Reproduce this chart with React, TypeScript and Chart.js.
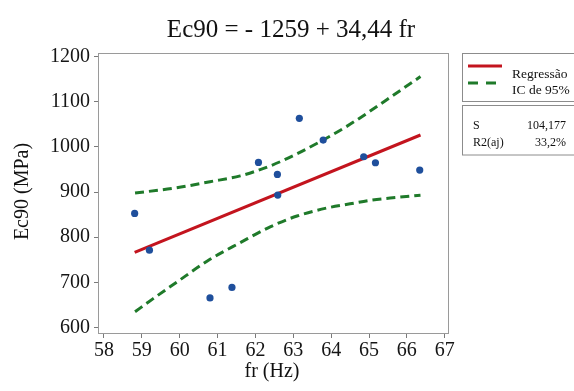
import React, { useEffect, useRef } from 'react';
import { Chart, registerables } from 'chart.js';
Chart.register(...registerables);

// Observations
const frValues = [58.81, 59.2, 60.8, 61.38, 62.08, 62.58, 62.59, 63.16, 63.79, 64.86, 65.17, 66.34];
const ec90Values = [852.7, 771.4, 665.6, 688.7, 965.8, 939.2, 893.4, 1063.4, 1015.3, 978.3, 965.0, 948.8];

// Fitted line (ends)
const fitX = [58.81, 66.36];
const fitY = [766.5, 1026.5];

// 95% confidence band
const upperX = [58.82, 59.88, 60.8, 61.6, 62.39, 63.1, 63.78, 64.4, 65.04, 65.7, 66.36];
const upperY = [898, 909, 923, 936, 958, 985, 1015, 1045, 1080, 1118, 1156];
const lowerX = [58.82, 59.3, 59.88, 60.8, 61.6, 62.39, 63.1, 63.9, 64.5, 65.04, 65.7, 66.36];
const lowerY = [635, 664, 698, 751, 788, 823, 847, 865, 874, 882, 888, 893];

// Axis ticks
const xTicks = [58, 59, 60, 61, 62, 63, 64, 65, 66, 67];
const yTicks = [600, 700, 800, 900, 1000, 1100, 1200];

const titleText = 'Ec90 = - 1259 + 34,44 fr';
const xTitle = 'fr (Hz)';
const yTitle = 'Ec90 (MPa)';
const legendLabels = ['Regressão', 'IC de 95%'];
const statNames = ['S', 'R2(aj)'];
const statValues = ['104,177', '33,2%'];

const SERIF = "'Liberation Serif', 'Times New Roman', serif";
const RED = '#c3141e';
const GREEN = '#1f7a2a';
const BLUE = '#1f4f9c';

const pts = (xs: number[], ys: number[]) => xs.map((x, i) => ({ x, y: ys[i] }));

const decorPlugin = {
  id: 'decor',
  beforeDatasetsDraw(chart: any) {
    const { ctx, chartArea: a } = chart;
    ctx.save();
    ctx.strokeStyle = '#9a9a9a';
    ctx.lineWidth = 1;
    ctx.strokeRect(Math.round(a.left) - 0.5, Math.round(a.top) + 0.5, Math.round(a.right - a.left), Math.round(a.bottom - a.top));
    ctx.restore();
  },
  afterDraw(chart: any) {
    const { ctx } = chart;
    ctx.save();
    ctx.fillStyle = '#111';
    // title
    ctx.font = `25px ${SERIF}`;
    ctx.textAlign = 'center';
    ctx.textBaseline = 'alphabetic';
    ctx.fillText(titleText, 291, 37);
    // x title
    ctx.font = `20px ${SERIF}`;
    ctx.textBaseline = 'middle';
    ctx.fillText(xTitle, 272, 372);
    // y title
    ctx.save();
    ctx.translate(23, 191.5);
    ctx.rotate(-Math.PI / 2);
    ctx.fillText(yTitle, 0, 0);
    ctx.restore();

    // legend boxes
    ctx.strokeStyle = '#8c8c8c';
    ctx.lineWidth = 1;
    ctx.strokeRect(462.5, 53.5, 130, 48);
    ctx.strokeRect(462.5, 105.5, 130, 49.5);
    ctx.lineWidth = 3;
    ctx.strokeStyle = RED;
    ctx.beginPath();
    ctx.moveTo(468, 66);
    ctx.lineTo(502, 66);
    ctx.stroke();
    ctx.strokeStyle = GREEN;
    ctx.setLineDash([10, 8]);
    ctx.beginPath();
    ctx.moveTo(468, 83);
    ctx.lineTo(502, 83);
    ctx.stroke();
    ctx.setLineDash([]);
    ctx.fillStyle = '#111';
    ctx.font = `13.5px ${SERIF}`;
    ctx.textAlign = 'left';
    ctx.textBaseline = 'alphabetic';
    ctx.fillText(legendLabels[0], 512, 78);
    ctx.fillText(legendLabels[1], 512, 94);
    // stats box
    ctx.font = `12px ${SERIF}`;
    ctx.fillText(statNames[0], 473, 129);
    ctx.fillText(statNames[1], 473, 146);
    ctx.textAlign = 'right';
    ctx.fillText(statValues[0], 566, 129);
    ctx.fillText(statValues[1], 566, 146);
    ctx.restore();
  },
};

export default function App() {
  const ref = useRef<HTMLCanvasElement>(null);
  useEffect(() => {
    document.body.style.margin = '0';
    const canvas = ref.current!;
    const tickFont = { family: SERIF, size: 20 };
    const chart = new Chart(canvas, {
      type: 'scatter',
      data: {
        datasets: [
          {
            label: 'obs',
            data: pts(frValues, ec90Values),
            backgroundColor: BLUE,
            borderColor: BLUE,
            pointRadius: 3.6,
            pointBorderWidth: 0,
            showLine: false,
          },
          {
            label: legendLabels[0],
            data: pts(fitX, fitY),
            showLine: true,
            borderColor: RED,
            borderWidth: 3,
            pointRadius: 0,
          },
          {
            label: 'upper',
            data: pts(upperX, upperY),
            showLine: true,
            borderColor: GREEN,
            borderWidth: 3,
            borderDash: [9, 5],
            pointRadius: 0,
            cubicInterpolationMode: 'monotone',
          },
          {
            label: 'lower',
            data: pts(lowerX, lowerY),
            showLine: true,
            borderColor: GREEN,
            borderWidth: 3,
            borderDash: [9, 5],
            pointRadius: 0,
            cubicInterpolationMode: 'monotone',
          },
        ] as any,
      },
      options: {
        animation: false,
        responsive: false,
        devicePixelRatio: 1,
        layout: { padding: { top: 53, right: 125, left: 0, bottom: 0 } },
        plugins: { legend: { display: false }, title: { display: false }, tooltip: { enabled: false } },
        scales: {
          x: {
            type: 'linear',
            min: 57.868,
            max: 67.113,
            afterBuildTicks: (s: any) => { s.ticks = xTicks.map((v) => ({ value: v })); },
            afterFit: (s: any) => { s.height = 58; },
            grid: { drawOnChartArea: false, drawTicks: true, tickLength: 5, color: '#7a7a7a' },
            border: { display: false },
            ticks: { font: tickFont, color: '#151515', padding: 1, maxRotation: 0, autoSkip: false, callback: (v: any) => String(v) },
          },
          y: {
            type: 'linear',
            min: 587.8,
            max: 1208.2,
            afterBuildTicks: (s: any) => { s.ticks = yTicks.map((v) => ({ value: v })); },
            afterFit: (s: any) => { s.width = 99; },
            grid: { drawOnChartArea: false, drawTicks: true, tickLength: 5, color: '#7a7a7a' },
            border: { display: false },
            ticks: { font: tickFont, color: '#151515', padding: 4, autoSkip: false, callback: (v: any) => String(v) },
          },
        },
      } as any,
      plugins: [decorPlugin],
    });
    return () => chart.destroy();
  }, []);
  return (
    <div style={{ width: 574, height: 391, background: '#fff' }}>
      <canvas ref={ref} width={574} height={391} style={{ display: 'block' }} />
    </div>
  );
}
